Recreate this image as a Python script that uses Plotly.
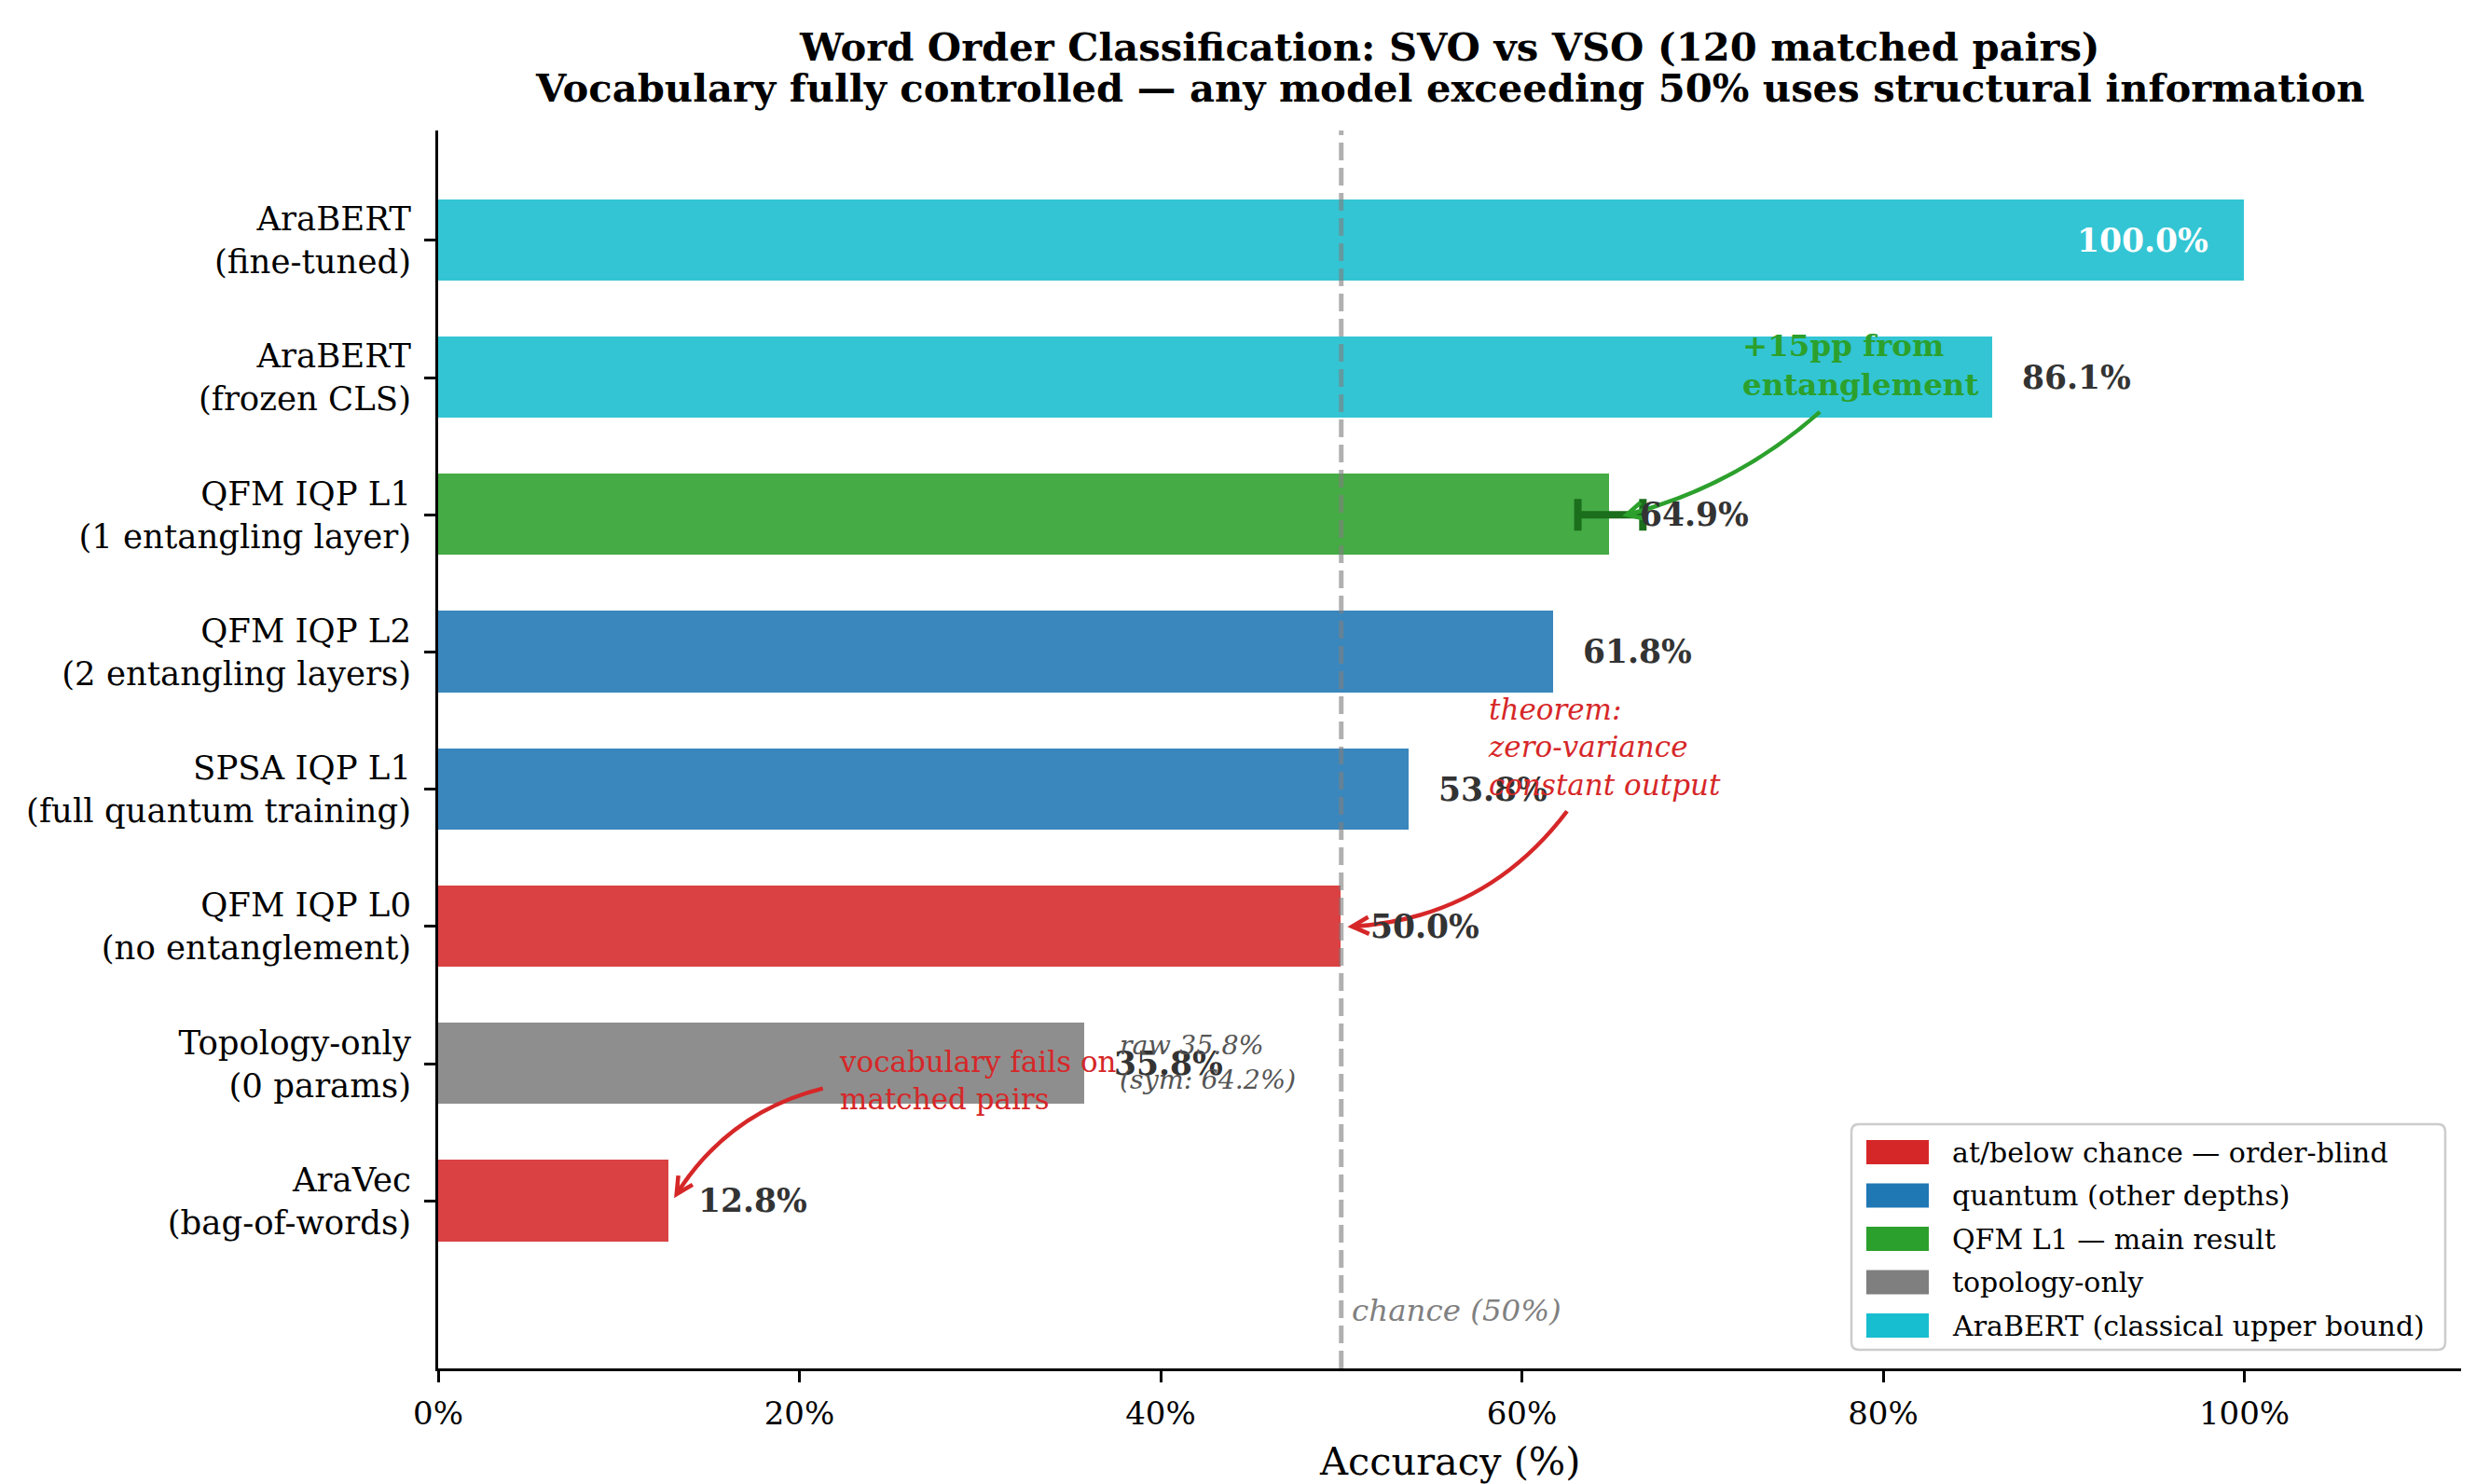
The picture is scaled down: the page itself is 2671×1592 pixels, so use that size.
import math
import plotly.graph_objects as go

# ---------------- data ----------------
models = [
    "AraBERT\n(fine-tuned)",
    "AraBERT\n(frozen CLS)",
    "QFM IQP L1\n(1 entangling layer)",
    "QFM IQP L2\n(2 entangling layers)",
    "SPSA IQP L1\n(full quantum training)",
    "QFM IQP L0\n(no entanglement)",
    "Topology-only\n(0 params)",
    "AraVec\n(bag-of-words)",
]
accuracy = [100.0, 86.1, 64.9, 61.8, 53.8, 50.0, 35.8, 12.8]
groups = ["bert", "bert", "main", "quantum", "quantum", "chance", "topology", "chance"]
l1_std = 1.8
topology_sym = 64.2
chance_level = 50.0

x_ticks = [0, 20, 40, 60, 80, 100]
x_tick_labels = ["0%", "20%", "40%", "60%", "80%", "100%"]

legend_keys = ["chance", "quantum", "main", "topology", "bert"]
legend_labels = [
    "at/below chance — order-blind",
    "quantum (other depths)",
    "QFM L1 — main result",
    "topology-only",
    "AraBERT (classical upper bound)",
]
group_colors = {
    "chance": "#d62728",
    "quantum": "#1f77b4",
    "main": "#2ca02c",
    "topology": "#7f7f7f",
    "bert": "#17becf",
}
title_lines = [
    "Word Order Classification: SVO vs VSO (120 matched pairs)",
    "Vocabulary fully controlled — any model exceeding 50% uses structural information",
]

# ---------------- layout geometry ----------------
W, H = 2671, 1592
PL, PR, PT, PB = 470, 2640, 140, 1468
XR = (0.0, 112.0)
YR = (-1.22, 7.80)
FONT = "DejaVu Serif"


def d2p(x, y):
    px = PL + (x - XR[0]) / (XR[1] - XR[0]) * (PR - PL)
    py = PT + (YR[1] - y) / (YR[1] - YR[0]) * (PB - PT)
    return px, py


def p2d(px, py):
    x = XR[0] + (px - PL) / (PR - PL) * (XR[1] - XR[0])
    y = YR[1] - (py - PT) / (PB - PT) * (YR[1] - YR[0])
    return x, y


def p2paper(px, py):
    return (px - PL) / (PR - PL), (PB - py) / (PB - PT)


n = len(models)
ypos = [n - 1 - i for i in range(n)]
bar_colors = [group_colors[g] for g in groups]

fig = go.Figure()
fig.add_trace(go.Bar(
    x=accuracy, y=ypos, orientation="h", width=0.6,
    marker=dict(color=bar_colors, opacity=0.88, line=dict(color="white", width=1)),
    hoverinfo="skip", showlegend=False,
))
i_main = groups.index("main")
fig.add_trace(go.Scatter(
    x=[accuracy[i_main]], y=[ypos[i_main]], mode="markers",
    marker=dict(opacity=0, size=2, color="#1b6e1b"),
    error_x=dict(type="data", array=[l1_std], color="#1b6e1b", thickness=8, width=17),
    hoverinfo="skip", showlegend=False,
))

annotations = []
shapes = []

# chance line
shapes.append(dict(type="line", xref="x", yref="paper", x0=chance_level, x1=chance_level,
                   y0=0, y1=1, line=dict(color="rgba(128,128,128,0.62)", width=5, dash="19px,8px"),
                   layer="above"))

# value labels
for v, yy in zip(accuracy, ypos):
    if v >= 99:
        annotations.append(dict(x=v - 1.9, y=yy, xref="x", yref="y", text=f"{v:.1f}%",
                                showarrow=False, xanchor="right", yanchor="middle",
                                font=dict(family=FONT, size=34.5, color="white", weight="bold")))
    else:
        annotations.append(dict(x=v + 1.5, y=yy, xref="x", yref="y", text=f"{v:.1f}%",
                                showarrow=False, xanchor="left", yanchor="middle",
                                font=dict(family=FONT, size=34.5, color="#333333", weight="bold")))

i_topo = groups.index("topology")
annotations.append(dict(x=accuracy[i_topo] + 1.8, y=ypos[i_topo] + 0.01, xref="x", yref="y",
                        text=f"raw {accuracy[i_topo]:.1f}%<br>(sym: {topology_sym:.1f}%)",
                        showarrow=False, xanchor="left", yanchor="middle", align="left",
                        font=dict(family=FONT, size=28.5, color="#555555", style="italic")))

annotations.append(dict(x=chance_level + 0.5, y=-0.80, xref="x", yref="y", text=f"chance ({chance_level:.0f}%)",
                        showarrow=False, xanchor="left", yanchor="middle",
                        font=dict(family=FONT, size=32.5, color="#808080", style="italic")))

# callouts: text, text position, arrow start/end (data), rad, colour, style
callouts = [
    dict(text="+15pp from<br>entanglement", tx=72.1, ty=6.09, s=(76.5, 5.75), e=(65.8, 5.0),
         rad=-0.12, color="#2ca02c", weight="bold", style="normal", size=32.5),
    dict(text="theorem:<br>zero-variance<br>constant output", tx=58.0, ty=3.31, s=(62.5, 2.84),
         e=(50.6, 2.0), rad=-0.23, color="#d62728", weight="normal", style="italic", size=31),
    dict(text="vocabulary fails on<br>matched pairs", tx=22.1, ty=0.88, s=(21.3, 0.82),
         e=(13.2, 0.05), rad=0.2, color="#d62728", weight="normal", style="normal", size=31),
]
for c in callouts:
    sx, sy = d2p(*c["s"])
    ex, ey = d2p(*c["e"])
    dx, dy = ex - sx, ey - sy
    mx, my = (sx + ex) / 2, (sy + ey) / 2
    cx, cy = mx - c["rad"] * dy, my + c["rad"] * dx
    S = p2d(sx, sy); C = p2d(cx, cy); E = p2d(ex, ey)
    shapes.append(dict(type="path", xref="x", yref="y", layer="above",
                       path=f"M {S[0]},{S[1]} Q {C[0]},{C[1]} {E[0]},{E[1]}",
                       line=dict(color=c["color"], width=4.5)))
    ux, uy = ex - cx, ey - cy
    ln = math.hypot(ux, uy)
    ux, uy = ux / ln, uy / ln
    th = math.radians(27)
    arms = []
    for sgn in (1, -1):
        rx = ux * math.cos(sgn * th) - uy * math.sin(sgn * th)
        ry = ux * math.sin(sgn * th) + uy * math.cos(sgn * th)
        arms.append(p2d(ex - 20 * rx, ey - 20 * ry))
    shapes.append(dict(type="path", xref="x", yref="y", layer="above",
                       path=f"M {arms[0][0]},{arms[0][1]} L {E[0]},{E[1]} L {arms[1][0]},{arms[1][1]}",
                       line=dict(color=c["color"], width=4.5)))
    annotations.append(dict(x=c["tx"], y=c["ty"], xref="x", yref="y", text=c["text"],
                            showarrow=False, xanchor="left", yanchor="middle", align="left",
                            font=dict(family=FONT, size=c["size"], color=c["color"],
                                      weight=c["weight"], style=c["style"])))

# title (two lines)
for k, (line, py) in enumerate(zip(title_lines, [51, 94])):
    _, yp = p2paper(0, py)
    annotations.append(dict(x=0.5, y=yp, xref="paper", yref="paper", text=line, showarrow=False,
                            xanchor="center", yanchor="middle",
                            font=dict(family=FONT, size=41.7, color="black", weight="bold")))

# x-axis title
_, yp = p2paper(0, 1567)
annotations.append(dict(x=0.5, y=yp, xref="paper", yref="paper", text="Accuracy (%)", showarrow=False,
                        xanchor="center", yanchor="middle", font=dict(family=FONT, size=41.5, color="black")))

# manual legend
bx0, by0, bx1, by1 = 1986, 1206, 2623, 1448
r = 8


def P(X, Y):
    a, b = p2paper(X, Y)
    return f"{a},{b}"


legend_path = (f"M {P(bx0 + r, by0)} L {P(bx1 - r, by0)} Q {P(bx1, by0)} {P(bx1, by0 + r)} "
               f"L {P(bx1, by1 - r)} Q {P(bx1, by1)} {P(bx1 - r, by1)} "
               f"L {P(bx0 + r, by1)} Q {P(bx0, by1)} {P(bx0, by1 - r)} "
               f"L {P(bx0, by0 + r)} Q {P(bx0, by0)} {P(bx0 + r, by0)} Z")
shapes.append(dict(type="path", xref="paper", yref="paper", path=legend_path, layer="above",
                   fillcolor="rgba(255,255,255,0.8)", line=dict(color="#cccccc", width=2.5)))
for k, (key, lab) in enumerate(zip(legend_keys, legend_labels)):
    cyk = 1236 + k * 46.5
    x0p, y0p = p2paper(2002, cyk - 13)
    x1p, y1p = p2paper(2069, cyk + 13)
    shapes.append(dict(type="rect", xref="paper", yref="paper", x0=x0p, x1=x1p, y0=y1p, y1=y0p,
                       fillcolor=group_colors[key], line=dict(width=0), layer="above"))
    tx, ty = p2paper(2092, cyk)
    annotations.append(dict(x=tx, y=ty, xref="paper", yref="paper", text=lab, showarrow=False,
                            xanchor="left", yanchor="middle",
                            font=dict(family=FONT, size=30, color="black")))

fig.update_layout(
    width=W, height=H,
    margin=dict(l=PL, r=W - PR, t=PT, b=H - PB, autoexpand=False),
    plot_bgcolor="white", paper_bgcolor="white",
    font=dict(family=FONT, color="black"),
    bargap=0,
    shapes=shapes, annotations=annotations,
    showlegend=False,
    xaxis=dict(range=list(XR), tickvals=x_ticks, ticktext=x_tick_labels, showgrid=False, zeroline=False,
               showline=True, linecolor="black", linewidth=2.8, ticks="outside", ticklen=12,
               tickwidth=2.8, tickcolor="black", tickfont=dict(family=FONT, size=34, color="black"),
               automargin=False, ticklabelstandoff=4),
    yaxis=dict(range=list(YR), tickvals=ypos, ticktext=[m.replace("\n", "<br>") for m in models],
               showgrid=False, zeroline=False, showline=True, linecolor="black", linewidth=2.8,
               ticks="outside", ticklen=12, tickwidth=2.8, tickcolor="black",
               tickfont=dict(family=FONT, size=35.5, color="black"), automargin=False,
               ticklabelstandoff=7),
)

fig.write_html("out.html")
